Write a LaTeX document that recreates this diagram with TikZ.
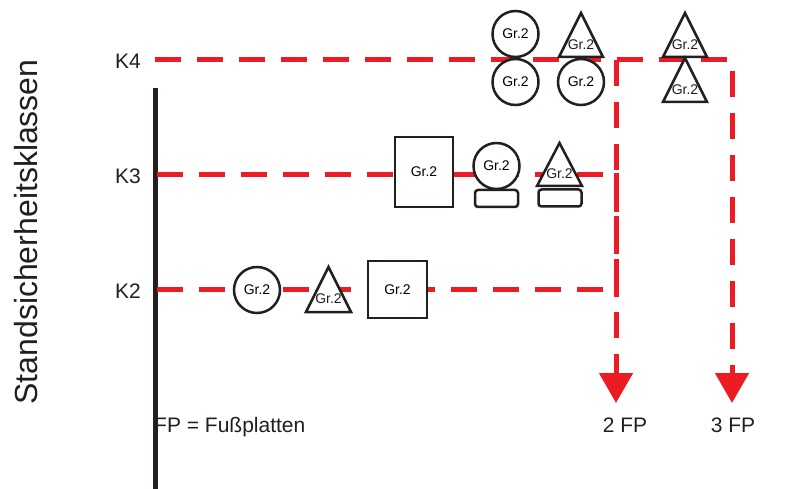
\documentclass[tikz,border=0pt]{standalone}
\usepackage{fontspec}
\setmainfont{Liberation Sans}
\usetikzlibrary{arrows.meta}
\definecolor{fpred}{HTML}{ED1C24}
\definecolor{ink}{HTML}{231F20}
\begin{document}
\begin{tikzpicture}[x=1pt, y=-1pt,
  redline/.style={draw=fpred, line width=5pt, dash pattern=on 26pt off 16pt},
  shp/.style={draw=ink, line width=2.5pt, fill=white},
  circ/.style={shp, circle, minimum size=46pt, inner sep=0pt, font=\fontsize{14}{14}\selectfont},
  box/.style={shp, rectangle, inner sep=0pt, font=\fontsize{14}{14}\selectfont},
  plate/.style={shp, rounded corners=3pt, minimum width=43pt, minimum height=17pt, inner sep=0pt},
  grtext/.style={inner sep=0pt, text=ink, font=\fontsize{14}{14}\selectfont},
  klabel/.style={text=ink, font=\fontsize{21}{21}\selectfont},
  fplabel/.style={text=ink, font=\fontsize{21}{21}\selectfont}]

  \useasboundingbox (0,0) rectangle (801,489);

  % Axis and class labels
  \node[rotate=90, text=ink, font=\fontsize{32}{32}\selectfont] (ylab) at (26,232) {Standsicherheitsklassen};
  \coordinate (axtop) at (155,88);
  \coordinate (axbot) at (155,489);
  \draw[ink, line width=5pt] (axtop) -- (axbot);

  \node[klabel] (K4) at (128,61) {K4};
  \node[klabel] (K3) at (128,176) {K3};
  \node[klabel] (K2) at (128,291) {K2};

  \coordinate (k4s) at (155,60);
  \coordinate (k3s) at (157,175);
  \coordinate (k2s) at (157,290);
  \coordinate (k3e) at (610,175);
  \coordinate (k2e) at (610,290);
  \coordinate (top2) at (616,60);
  \coordinate (drop3) at (616,173);
  \coordinate (drop2) at (616,297);
  \coordinate (top3) at (732,60);

  % Arrow ends
  \coordinate (fp2) at (616,403);
  \coordinate (fp3) at (732,403);

  % Red dashed lines
  \draw[redline] (k3s) -- (k3e);
  \draw[redline] (k2s) -- (k2e);
  \draw[redline, -{Triangle[width=33pt,length=30pt]}] (top2) -- (fp2);
  \draw[redline, dash pattern=on 38pt off 5pt] (drop3) -- (drop2);
  \draw[redline, -{Triangle[width=33pt,length=30pt]}] (k4s) -- (top3) -- (fp3);

  % K4 row
  \node[circ] (c41) at (515.5,34) {Gr.2};
  \node[circ] (c42) at (515.5,82) {Gr.2};
  \node[circ] (c43) at (581,82) {Gr.2};
  \draw[shp] (581,13) -- (603,57) -- (559,57) -- cycle;
  \node[grtext] (t41) at (581,45) {Gr.2};
  \draw[shp] (685,13) -- (707,57) -- (663,57) -- cycle;
  \node[grtext] (t42) at (685,45) {Gr.2};
  \draw[shp] (685,58) -- (707,102) -- (663,102) -- cycle;
  \node[grtext] (t43) at (685,90) {Gr.2};

  % K3 row
  \node[box, minimum width=58pt, minimum height=70pt] (b31) at (424,172) {Gr.2};
  \node[circ] (c31) at (496.5,166) {Gr.2};
  \node[plate] (p31) at (496.5,198.5) {};
  \draw[shp] (559.5,143) -- (582,186) -- (537,186) -- cycle;
  \node[grtext] (t31) at (559.5,174) {Gr.2};
  \node[plate] (p32) at (560,198) {};

  % K2 row
  \node[circ] (c21) at (257,290) {Gr.2};
  \draw[shp] (328.5,267) -- (351,312) -- (306,312) -- cycle;
  \node[grtext] (t21) at (328.5,299) {Gr.2};
  \node[box, minimum width=59pt, minimum height=57pt] (b21) at (397.5,289.5) {Gr.2};

  % Legend
  \node[fplabel, anchor=west, inner sep=0pt] (legend) at (154,427) {FP = Fußplatten};
  \node[fplabel] (fp2lbl) at (625,425) {2 FP};
  \node[fplabel] (fp3lbl) at (733,425) {3 FP};

\end{tikzpicture}
\end{document}
